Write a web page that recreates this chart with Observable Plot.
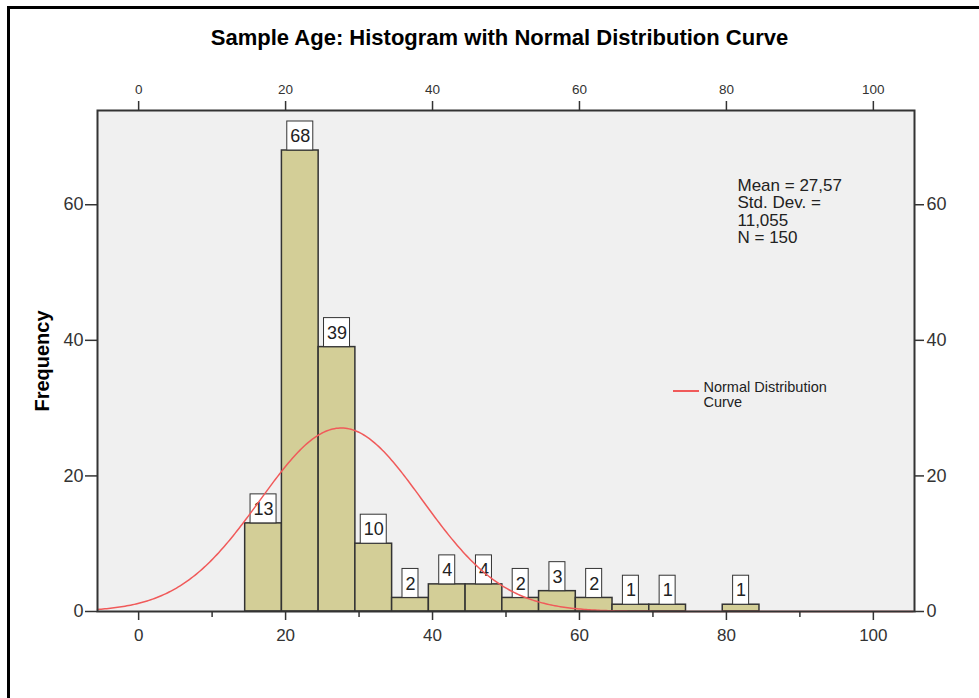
<!DOCTYPE html>
<html><head><meta charset="utf-8">
<script src="https://cdn.jsdelivr.net/npm/d3@7"></script>
<script src="https://cdn.jsdelivr.net/npm/@observablehq/plot@0.6"></script>
<style>
body{margin:0;background:#fff;font-family:"Liberation Sans",Arial,sans-serif;}
#wrap{position:relative;width:979px;height:698px;overflow:hidden;}
#border{position:absolute;left:7px;top:6px;width:990px;height:720px;border-top:3px solid #000;border-left:3px solid #000;pointer-events:none;}
#title{height:70px;position:relative;}
#title span{position:absolute;left:0;width:999px;text-align:center;top:27px;font-weight:bold;font-size:22px;line-height:22px;color:#000;white-space:nowrap;}
</style></head><body>
<div id="wrap"><div id="title"><span id="tt"></span></div><div id="chart"></div><div id="border"></div></div>
<script>
const title = "Sample Age: Histogram with Normal Distribution Curve";
const yLabel = "Frequency";
const binStarts = [14.5, 19.5, 24.5, 29.5, 34.5, 39.5, 44.5, 49.5, 54.5, 59.5, 64.5, 69.5, 79.5];
const binWidth = 5;
const counts = [13, 68, 39, 10, 2, 4, 4, 2, 3, 2, 1, 1, 1];
const meanAge = 27.57;
const sdAge = 11.055;
const nTotal = 150;
const xMajorTicks = [0, 20, 40, 60, 80, 100];
const xMinorTicks = [10, 30, 50, 70, 90];
const yTicks = [0, 20, 40, 60];
const statsLines = ["Mean = 27,57", "Std. Dev. =", "11,055", "N = 150"];
const legendLabel = "Normal Distribution\nCurve";
const xDomain = [-5.6, 105.6];
const yDomain = [0, 73.9];

document.getElementById("tt").textContent = title;

const bars = binStarts.map((lo, i) => ({lo, hi: lo + binWidth, mid: lo + binWidth / 2, count: counts[i]}));
const curveXs = d3.range(xDomain[0], xDomain[1] + 0.001, 0.25);
const curve = curveXs.map(x => ({x, y: nTotal * binWidth * Math.exp(-0.5 * ((x - meanAge) / sdAge) ** 2) / (sdAge * Math.sqrt(2 * Math.PI))}));

const curveColor = "#f05a5a";
const axisColor = "#333";
const font = "'Liberation Sans', Arial, sans-serif";

function legendLine(index, scales, values, dims) {
  return d3.create("svg:line")
    .attr("x1", dims.marginLeft + 576).attr("x2", dims.marginLeft + 602)
    .attr("y1", dims.marginTop + 281).attr("y2", dims.marginTop + 281)
    .attr("stroke", curveColor).attr("stroke-width", 2).node();
}

const chart = Plot.plot({
  width: 979, height: 628,
  marginTop: 40, marginBottom: 87, marginLeft: 97, marginRight: 65,
  style: {fontFamily: font, background: "transparent", overflow: "visible"},
  x: {domain: xDomain, axis: null},
  y: {domain: yDomain, axis: null},
  marks: [
    Plot.frame({fill: "#f0f0f0"}),
    Plot.rectY(bars, {x1: "lo", x2: "hi", y: "count", fill: "#d3ce97", stroke: "#333", strokeWidth: 1.5}),
    Plot.rect(bars.filter(d => d.count >= 10), {x1: "mid", x2: "mid", y1: "count", y2: "count", insetLeft: -13, insetRight: -13, insetTop: -29, insetBottom: 0, fill: "white", stroke: "#333", strokeWidth: 1}),
    Plot.rect(bars.filter(d => d.count < 10), {x1: "mid", x2: "mid", y1: "count", y2: "count", insetLeft: -8, insetRight: -8, insetTop: -29, insetBottom: 0, fill: "white", stroke: "#333", strokeWidth: 1}),
    Plot.text(bars, {x: "mid", y: "count", text: d => String(d.count), dy: -14, fontSize: 18, fill: "#222", lineAnchor: "middle"}),
    Plot.line(curve, {x: "x", y: "y", stroke: curveColor, strokeWidth: 1.5}),
    Plot.frame({stroke: axisColor, strokeWidth: 2}),
    Plot.axisX({anchor: "bottom", ticks: xMajorTicks, tickSize: 9, tickPadding: 8, fontSize: 17, color: axisColor, strokeWidth: 1.5, label: null}),
    Plot.axisX({anchor: "bottom", ticks: xMinorTicks, tickSize: 6, tickFormat: () => "", color: axisColor, strokeWidth: 1.5, label: null}),
    Plot.axisX({anchor: "top", ticks: xMajorTicks, tickSize: 10, tickPadding: 7, fontSize: 13.5, color: axisColor, strokeWidth: 1.5, label: null}),
    Plot.axisY({anchor: "left", ticks: yTicks, tickSize: 12, tickPadding: 2, fontSize: 18, color: axisColor, strokeWidth: 1.5, label: null}),
    Plot.axisY({anchor: "right", ticks: yTicks, tickSize: 9, tickPadding: 3, fontSize: 18, color: axisColor, strokeWidth: 1.5, label: null}),
    Plot.text([yLabel], {frameAnchor: "left", text: d => d, rotate: -90, dx: -55, textAnchor: "middle", fontSize: 20, fontWeight: "bold", fill: "#000"}),
    Plot.text([statsLines.join("\n")], {frameAnchor: "top-left", text: d => d, dx: 640, dy: 68, lineAnchor: "top", textAnchor: "start", fontSize: 17, lineHeight: 1.03, fill: "#222"}),
    Plot.text([legendLabel], {frameAnchor: "top-left", text: d => d, dx: 606, dy: 271, lineAnchor: "top", textAnchor: "start", fontSize: 14.5, lineHeight: 1.03, fill: "#222"}),
    legendLine
  ]
});
document.getElementById("chart").appendChild(chart);
</script>
</body></html>
